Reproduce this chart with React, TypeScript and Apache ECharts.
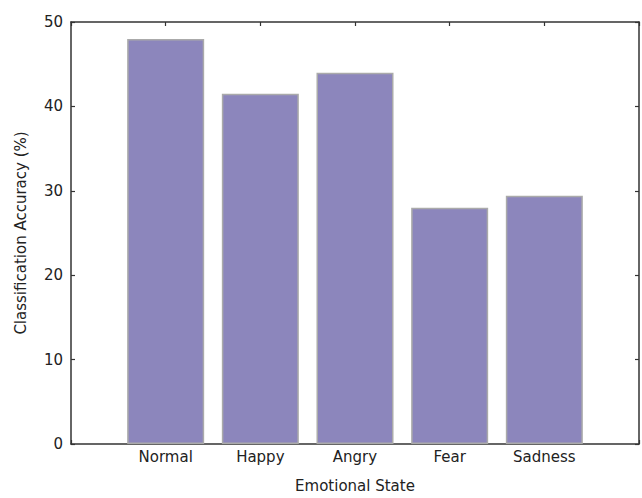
import React, { useEffect, useRef } from "react";
import * as echarts from "echarts";

const categories = ["Normal", "Happy", "Angry", "Fear", "Sadness"];
const accuracy = [48.0, 41.5, 44.0, 28.0, 29.4];
const yTicks = [0, 10, 20, 30, 40, 50];

export default function App() {
  const ref = useRef<HTMLDivElement>(null);
  useEffect(() => {
    if (!ref.current) return;
    const chart = echarts.init(ref.current, undefined, { renderer: "svg" });
    const font = "DejaVu Sans";
    const fs = 15;
    const axisLine = { show: true, onZero: false, lineStyle: { color: "#333", width: 1.5 } };
    const tick = { show: true, inside: true, length: 4, lineStyle: { color: "#333", width: 1.2 } };
    chart.setOption({
      animation: false,
      backgroundColor: "#fff",
      grid: { left: 71, top: 22, right: -3, bottom: 49, containLabel: false },
      xAxis: [
        {
          type: "value",
          min: -1,
          max: 5,
          interval: 1,
          position: "bottom",
          axisLine,
          axisTick: tick,
          splitLine: { show: false },
          axisLabel: {
            margin: 5,
            color: "#222",
            fontFamily: font,
            fontSize: fs,
            formatter: (v: number) => (v >= 0 && v < categories.length ? categories[v] : ""),
          },
          name: "Emotional State",
          nameLocation: "middle",
          nameGap: 34,
          nameTextStyle: { color: "#222", fontFamily: font, fontSize: fs },
        },
        {
          type: "value",
          min: -1,
          max: 5,
          interval: 1,
          position: "top",
          axisLine,
          axisTick: tick,
          splitLine: { show: false },
          axisLabel: { show: false },
        },
      ],
      yAxis: [
        {
          type: "value",
          min: yTicks[0],
          max: yTicks[yTicks.length - 1],
          interval: 10,
          position: "left",
          axisLine,
          axisTick: tick,
          splitLine: { show: false },
          axisLabel: { margin: 8, color: "#222", fontFamily: font, fontSize: fs },
          name: "Classification Accuracy (%)",
          nameLocation: "middle",
          nameRotate: 90,
          nameGap: 43,
          nameTextStyle: { color: "#222", fontFamily: font, fontSize: fs },
        },
        {
          type: "value",
          min: yTicks[0],
          max: yTicks[yTicks.length - 1],
          interval: 10,
          position: "right",
          axisLine,
          axisTick: tick,
          splitLine: { show: false },
          axisLabel: { show: false },
        },
      ],
      series: [
        {
          type: "bar",
          xAxisIndex: 0,
          yAxisIndex: 0,
          barWidth: 77,
          data: accuracy.map((v, i) => [i, v]),
          itemStyle: { color: "#8c86bc", borderColor: "#aaaaaa", borderWidth: 1.5 },
        },
      ],
    });
    return () => chart.dispose();
  }, []);
  return (
    <div
      ref={ref}
      style={{ position: "fixed", left: 0, top: 0, width: 642, height: 498, overflow: "hidden" }}
    />
  );
}
